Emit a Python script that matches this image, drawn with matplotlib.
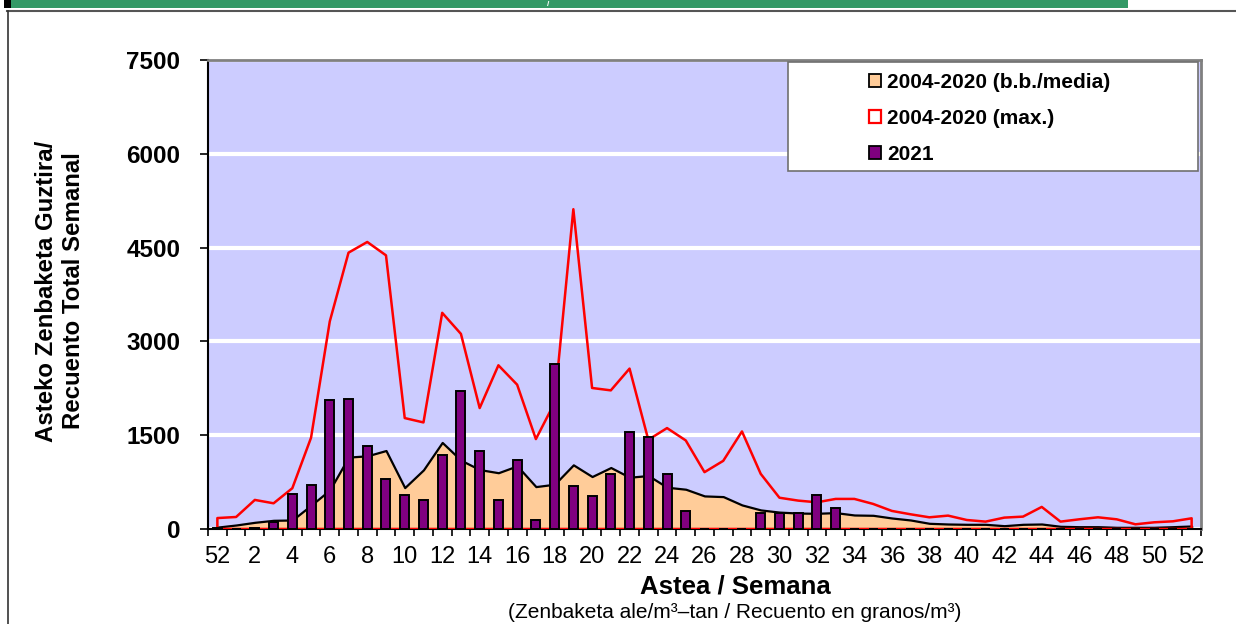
import matplotlib
matplotlib.use('Agg')
import matplotlib.pyplot as plt
from matplotlib.patches import Patch, Rectangle
from matplotlib.lines import Line2D
import numpy as np

plt.rcParams['font.family'] = ['Liberation Sans', 'DejaVu Sans']

# week categories: last week of previous year, then 1..52
weeks = [52] + list(range(1, 53))

# 2004-2020 mean (b.b./media)
media = [30, 64, 107, 139, 144, 380, 625, 1150, 1170, 1255,
         662, 946, 1384, 1100, 950, 900, 1010, 678, 716, 1026,
         839, 983, 828, 855, 668, 636, 529, 518, 385, 305,
         270, 255, 251, 262, 224, 219, 176, 144, 91, 80,
         75, 75, 53, 75, 80, 43, 37, 37, 27, 27,
         27, 37, 48]

# 2004-2020 max
maximoa = [175, 192, 465, 411, 652, 1460, 3320, 4419, 4590, 4376,
           1774, 1704, 3457, 3120, 1934, 2618, 2308, 1438, 2020, 5114,
           2255, 2217, 2565, 1427, 1614, 1416, 909, 1090, 1560, 882,
           500, 454, 427, 481, 481, 401, 289, 235, 187, 214,
           144, 118, 182, 198, 353, 118, 155, 187, 155, 75,
           107, 123, 171]

# 2021
urtea_2021 = [15, 5, 15, 107, 561, 705, 2057, 2084, 1330, 796,
              545, 465, 1186, 2201, 1255, 465, 1106, 144, 2645, 689,
              529, 887, 1544, 1470, 882, 289, 0, 0, 0, 251,
              262, 251, 545, 337, 0, 0, 0, 0, 0, 0,
              0, 0, 0, 0, 0, 0, 0, 0, 0, 0,
              0, 0, 0]

W, H = 1236, 624
fig = plt.figure(figsize=(W / 100, H / 100), dpi=100)

# page decorations (banner + frame)
def fx(px):
    return px / W

def fy(py):
    return 1 - py / H

fig.add_artist(Rectangle((fx(11), fy(8)), fx(1128) - fx(11), fy(0) - fy(8),
                         transform=fig.transFigure, facecolor='#339966', edgecolor='none'))
fig.add_artist(Rectangle((fx(4), fy(8)), fx(11) - fx(4), fy(0) - fy(8),
                         transform=fig.transFigure, facecolor='black', edgecolor='none'))
fig.text(fx(548), fy(4), '/', color='white', fontsize=6, fontweight='bold',
         ha='center', va='center')
fig.add_artist(Line2D([fx(7), 1], [fy(10.5), fy(10.5)], transform=fig.transFigure,
                      color='#555555', lw=1.5))
fig.add_artist(Line2D([fx(7.5), fx(7.5)], [fy(10.5), 0], transform=fig.transFigure,
                      color='#333333', lw=1.2))

# plot area
left, right, top, bottom = 208, 1201, 60, 529
ax = fig.add_axes([fx(left), fy(bottom), fx(right) - fx(left), fy(top) - fy(bottom)])
ax.set_facecolor('#CCCCFF')

x = np.arange(len(weeks))

ax.fill_between(x, media, 0, facecolor='#FFCC99', edgecolor='black', lw=1.6, zorder=2)
ax.fill_between(x, maximoa, 0, facecolor='none', edgecolor='red', lw=1.8, zorder=3)
ax.bar(x, urtea_2021, width=0.48, color='#800080', edgecolor='black', lw=1.4, zorder=4)

ax.set_xlim(-0.5, len(weeks) - 0.5)
ax.set_ylim(0, 7500)
ax.set_yticks([0, 1500, 3000, 4500, 6000, 7500])
ax.yaxis.grid(True, color='white', lw=3)
ax.set_axisbelow(True)

# ticks at category boundaries, labels every other week at the centres
ax.set_xticks(np.arange(-0.5, len(weeks), 1))
ax.set_xticklabels([])
ax.set_xticks(x[::2], minor=True)
ax.set_xticklabels([str(w) for w in weeks[::2]], minor=True)
ax.tick_params(axis='x', which='major', direction='out', length=5, width=1.2, color='black')
ax.tick_params(axis='x', which='minor', length=0, pad=12, labelsize=17)
ax.tick_params(axis='y', direction='out', length=6, width=1.2, pad=14, labelsize=17.5)
for lab in ax.get_yticklabels():
    lab.set_fontweight('bold')

ax.spines['left'].set_color('black')
ax.spines['left'].set_linewidth(1.5)
ax.spines['bottom'].set_color('black')
ax.spines['bottom'].set_linewidth(1.5)
ax.spines['top'].set_color('#808080')
ax.spines['top'].set_linewidth(2)
ax.spines['right'].set_color('#808080')
ax.spines['right'].set_linewidth(2)

# labels
fig.text(fx(60), fy(291), 'Asteko Zenbaketa Guztira/\nRecuento Total Semanal',
         rotation=90, ha='center', va='center', multialignment='center',
         fontsize=17.3, fontweight='bold', linespacing=1.22)
fig.text(fx(735), fy(586), 'Astea / Semana', ha='center', va='center',
         fontsize=18.5, fontweight='bold')
fig.text(fx(735), fy(613), '(Zenbaketa ale/m³–tan / Recuento en granos/m³)',
         ha='center', va='center', fontsize=15)

# legend box + entries
fig.add_artist(Rectangle((fx(788), fy(171)), fx(1198) - fx(788), fy(62) - fy(171),
                         transform=fig.transFigure, facecolor='white',
                         edgecolor='#707070', lw=1.2, zorder=5))
handles = [Patch(facecolor='#FFCC99', edgecolor='black', lw=1.3),
           Patch(facecolor='white', edgecolor='red', lw=1.6),
           Patch(facecolor='#800080', edgecolor='black', lw=1.3)]
labels = ['2004-2020 (b.b./media)', '2004-2020 (max.)', '2021']
leg = fig.legend(handles, labels, loc='upper left',
                 bbox_to_anchor=(fx(869), fy(73)), bbox_transform=fig.transFigure,
                 frameon=False, prop={'weight': 'bold', 'size': 15},
                 handlelength=0.58, handleheight=0.58, handletextpad=0.3,
                 labelspacing=0.82, borderpad=0, borderaxespad=0)
leg.set_zorder(6)

fig.savefig('out.png', dpi=100)
